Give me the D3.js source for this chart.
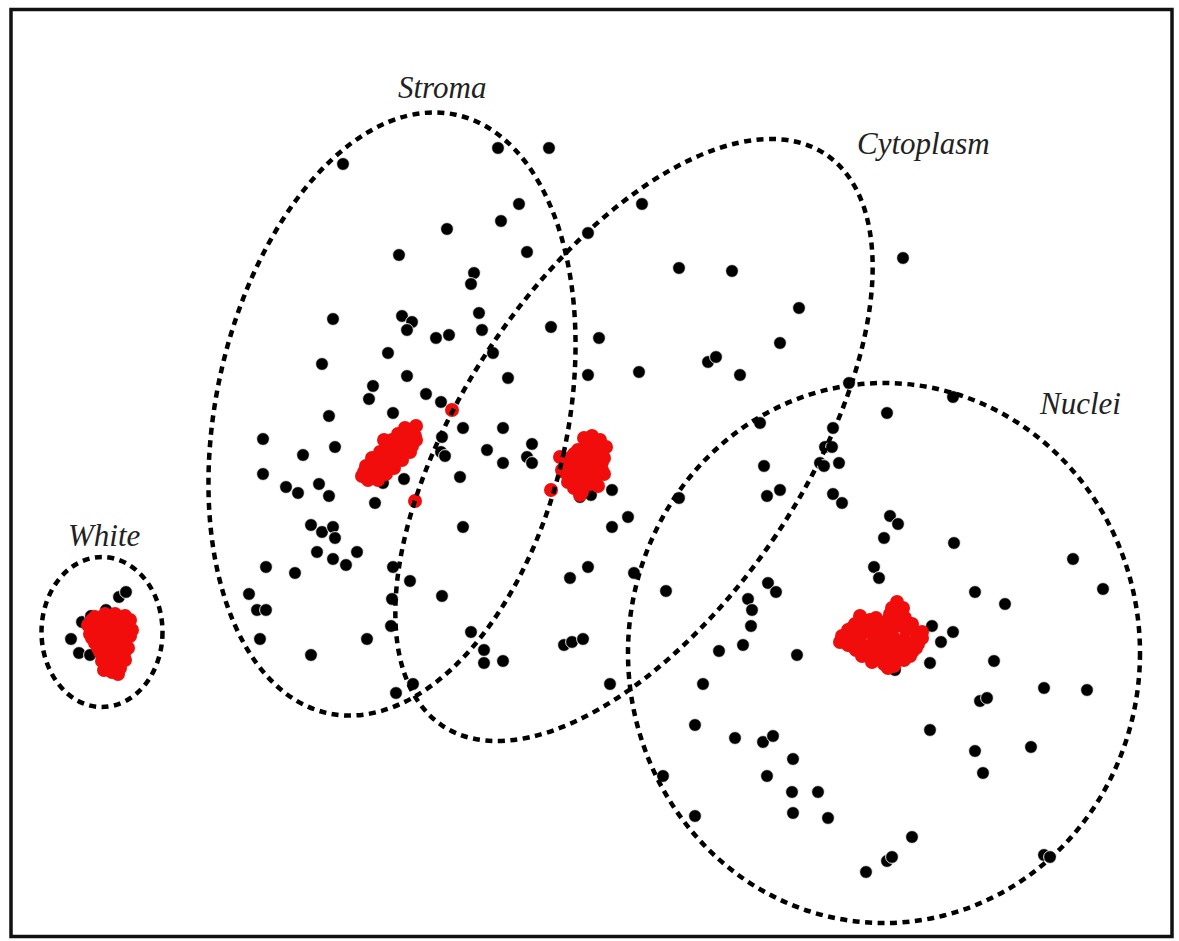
<!DOCTYPE html>
<html>
<head>
<meta charset="utf-8">
<script src="https://cdn.jsdelivr.net/npm/d3@7"></script>
<style>
  html, body { margin: 0; padding: 0; background: #fff; }
  svg { display: block; }
</style>
</head>
<body>
<svg id="chart" width="1179" height="941"></svg>
<script>
// Embedding coordinates (dim1, dim2) of the individual samples.
const samplePoints = [
  [34.3,16.4],[49.8,14.8],[54.9,14.8],[51.9,20.4],[50.1,22.1],[44.7,22.9],[64.2,20.4],[58.8,23.3],
  [39.9,25.5],[52.7,25.2],[47.4,27.3],[47.1,28.4],[67.9,26.8],[73.2,27.1],[90.3,25.8],[79.9,30.8],
  [40.2,31.6],[41.2,32.2],[40.7,33.0],[47.9,31.3],[48.2,33.0],[33.3,31.9],[43.6,33.8],[44.9,33.5],
  [55.1,32.7],[59.9,33.8],[38.8,35.3],[49.3,35.3],[32.2,36.4],[40.7,37.6],[50.8,37.8],[58.8,37.5],
  [63.9,37.2],[70.8,36.2],[71.6,35.7],[74.0,37.5],[78.0,34.3],[37.3,38.6],[36.9,39.9],[42.6,39.4],
  [44.1,40.2],[39.3,41.3],[32.9,41.6],[46.3,42.8],[50.3,42.8],[44.2,43.7],[44.1,45.2],[44.5,45.6],
  [48.7,45.0],[50.3,46.3],[53.2,44.4],[52.7,45.7],[53.2,46.3],[26.3,43.9],[30.3,45.5],[33.5,44.7],
  [26.3,47.4],[28.6,48.7],[29.8,49.3],[31.9,48.4],[32.9,49.6],[37.5,50.3],[38.3,48.3],[40.4,47.9],
  [46.0,47.7],[31.1,52.5],[32.2,53.2],[33.3,52.7],[33.5,53.8],[31.7,55.2],[35.7,55.2],[33.3,55.9],
  [34.6,56.5],[26.6,56.7],[29.5,57.3],[39.3,56.7],[24.9,59.4],[25.7,61.0],[26.6,61.0],[39.2,59.9],
  [41.0,58.1],[44.2,59.6],[46.3,52.7],[58.0,49.7],[59.1,49.5],[61.2,49.0],[62.8,51.7],[61.2,52.7],
  [57.0,57.8],[58.8,56.7],[63.4,57.3],[66.6,59.1],[67.9,49.8],[76.0,42.3],[76.4,46.6],[76.7,49.6],
  [78.0,49.0],[76.8,58.3],[77.6,59.2],[74.8,59.9],[75.2,61.0],[84.9,38.3],[95.3,39.7],[88.7,41.3],
  [83.3,42.8],[82.5,44.7],[83.2,44.7],[82.0,46.3],[82.4,46.6],[83.9,46.3],[83.3,49.4],[84.2,50.3],
  [89.0,51.6],[89.8,52.4],[88.4,53.8],[95.4,54.3],[87.4,56.7],[87.9,57.8],[107.3,55.9],[97.5,59.2],
  [100.5,60.4],[110.3,58.9],[93.2,62.6],[95.3,63.2],[94.1,64.2],[79.7,65.5],[93.0,66.3],[99.4,66.1],
  [89.5,67.0],[104.4,68.8],[108.7,69.0],[98.0,70.1],[98.7,69.8],[93.0,73.0],[97.5,75.1],[103.1,74.7],
  [98.3,77.3],[79.3,75.9],[79.2,79.2],[81.8,79.2],[79.3,81.3],[82.8,81.8],[91.2,83.7],[88.7,86.1],
  [89.2,85.7],[86.6,87.2],[104.4,85.5],[105.0,85.7],[39.1,62.6],[47.1,63.2],[48.4,65.0],[48.4,66.3],
  [50.3,66.1],[56.4,64.5],[57.2,64.2],[58.3,63.9],[41.3,68.4],[39.6,69.3],[61.0,68.4],[75.1,62.6],
  [71.9,65.1],[74.3,64.5],[70.3,68.4],[69.5,72.5],[73.5,73.8],[76.3,74.2],[77.3,73.6],[76.7,77.6],
  [66.3,77.6],[69.5,81.6],[26.0,63.9],[31.1,65.5],[36.7,63.9],[7.1,63.9],[7.9,65.3],[9.0,65.5],
  [8.2,62.2],[9.1,61.6],[10.6,61.0],[11.9,59.7],[12.6,59.2]
];

// Cluster centroids for each tissue class.
const whiteCentroids = [
  [9.5,61.7],[10.5,61.4],[11.5,61.4],[12.5,61.6],[8.8,62.5],[9.8,62.4],[10.8,62.4],[11.8,62.4],
  [12.8,62.6],[9.0,63.4],[10.0,63.4],[11.0,63.4],[12.0,63.4],[13.0,63.6],[9.5,64.3],[10.5,64.3],
  [11.5,64.3],[12.5,64.3],[10.0,65.2],[11.0,65.2],[12.0,65.2],[12.5,66.0],[10.2,66.1],[11.2,66.1],
  [12.0,66.8],[10.4,67.0],[11.2,67.2],
  [9.2,62.0],[10.0,61.8],[11.0,61.8],[12.0,61.8],[13.0,62.0],[9.4,62.9],[10.4,62.9],[11.4,62.9],
  [12.4,62.9],[13.2,63.0],[9.2,63.8],[10.2,63.8],[11.2,63.8],[12.2,63.8],[9.8,64.8],[10.8,64.8],
  [11.8,64.8],[12.8,64.8],[10.4,65.6],[11.4,65.6],[12.4,65.4],[10.8,66.6],[11.6,66.6],[11.8,67.4]
];
const stromaCentroids = [
  [41.2,43.2],[40.5,42.8],[41.6,44.0],[39.8,43.4],[40.8,44.4],[39.2,44.0],[40.0,44.8],[38.6,44.6],
  [39.4,45.4],[41.0,45.2],[38.0,45.2],[38.8,46.0],[40.2,46.0],[37.2,45.8],[38.0,46.6],[39.4,46.8],
  [36.6,46.6],[37.4,47.4],[38.6,47.4],[36.2,47.6],[36.8,48.0],[37.8,48.0],[39.8,44.0],[40.4,43.8],
  [38.4,44.0],[45.2,41.0],[41.5,50.1],
  [41.5,43.6],[40.8,43.6],[40.2,44.4],[39.6,45.0],[39.0,45.6],[38.4,46.2],[37.8,47.0],[37.0,47.4],
  [36.4,47.2],[37.2,46.6],[40.6,45.2],[40.0,45.6],[39.2,46.4],[38.6,46.8],[38.0,47.4],[41.2,44.6],
  [41.6,42.6]
];
const cytoplasmCentroids = [
  [59.2,43.6],[60.0,44.0],[60.6,44.7],[58.6,44.4],[59.6,45.0],[60.4,45.8],[57.8,45.0],[57.0,45.8],
  [58.0,45.8],[59.0,45.8],[60.0,46.6],[60.4,47.4],[56.6,46.6],[57.6,46.6],[58.6,46.8],[59.6,47.6],
  [57.0,47.6],[58.0,47.8],[59.0,48.4],[57.4,48.8],[58.2,49.2],[56.2,47.0],[59.8,48.6],[56.0,45.7],
  [55.1,49.0],
  [58.4,43.8],[59.6,44.4],[60.2,45.2],[57.4,45.4],[58.4,45.4],[59.4,45.4],[60.2,46.2],[57.0,46.2],
  [58.2,46.2],[59.2,46.2],[56.4,47.2],[57.4,47.2],[58.4,47.2],[59.4,47.0],[60.2,47.0],[57.6,48.4],
  [58.6,48.0],[58.0,49.5],[56.8,48.2]
];
const nucleiCentroids = [
  [89.7,60.2],[90.3,60.8],[89.5,61.4],[90.5,61.8],[88.8,62.0],[91.2,62.4],[88.0,62.4],[87.0,62.0],
  [86.0,61.6],[85.5,62.4],[84.8,63.0],[84.2,63.6],[84.0,64.2],[84.8,64.5],[85.8,64.0],[86.6,63.2],
  [87.6,63.0],[88.6,63.0],[89.6,62.6],[90.6,63.0],[91.6,63.2],[92.2,63.8],[91.4,64.2],[90.4,64.0],
  [89.4,63.8],[88.4,64.0],[87.4,64.0],[86.4,64.6],[85.6,65.0],[86.6,65.4],[87.6,65.0],[88.6,64.8],
  [89.6,64.8],[90.6,65.0],[91.6,64.8],[91.0,65.6],[90.0,65.8],[89.0,65.6],[88.0,65.8],[87.2,66.2],
  [88.4,66.4],[89.4,66.6],
  [89.2,60.8],[90.0,61.2],[89.0,61.4],[87.6,61.8],[86.4,62.2],[85.2,62.8],[84.4,64.0],[85.2,63.6],
  [86.0,63.2],[87.0,62.6],[88.0,62.6],[89.2,62.2],[90.0,62.4],[91.0,62.6],[92.2,63.2],[91.8,64.4],
  [90.0,64.4],[89.0,64.4],[88.0,64.4],[87.0,64.6],[86.0,64.2],[85.2,64.6],[86.2,65.6],[87.0,65.6],
  [88.2,65.2],[89.2,65.2],[90.2,65.2],[91.2,65.2],[90.4,66.0],[89.4,66.2],[88.8,66.8]
];

// Class regions: centre, semi-axes (across, along) and tilt in degrees.
const regionNames   = ["Stroma", "Cytoplasm", "Nuclei", "White"];
const regionCenters = [[39.2,41.4], [63.4,44.0], [88.4,65.3], [10.2,63.2]];
const regionRadii   = [[17.6,30.6], [17.1,34.4], [25.6,27.0], [6.05,7.5]];
const regionTilts   = [12, 33.9, 0, 0];
const labelAnchors  = [[39.8,9.8], [85.7,15.4], [104.0,41.4], [6.8,54.6]];

const width = 1179, height = 941;
const svg = d3.select("#chart");

const x = d3.scaleLinear().domain([0, 117.9]).range([0, width]);
const y = d3.scaleLinear().domain([0, 94.1]).range([0, height]);

// plot frame
svg.append("rect")
  .attr("x", 11).attr("y", 9.5)
  .attr("width", 1161).attr("height", 927)
  .attr("fill", "none")
  .attr("stroke", "#111")
  .attr("stroke-width", 3.5);

// samples
svg.append("g").selectAll("circle")
  .data(samplePoints)
  .join("circle")
  .attr("cx", d => x(d[0]))
  .attr("cy", d => y(d[1]))
  .attr("r", 6.4)
  .attr("fill", "#000")
  .attr("stroke", "#fff")
  .attr("stroke-width", 0.9);

// centroids
const centroidGroups = [whiteCentroids, stromaCentroids, cytoplasmCentroids, nucleiCentroids];
svg.append("g").selectAll("circle")
  .data(centroidGroups.flat())
  .join("circle")
  .attr("cx", d => x(d[0]))
  .attr("cy", d => y(d[1]))
  .attr("r", 7)
  .attr("fill", "#f20d0d");

// dashed class regions
const regions = regionNames.map((name, i) => ({
  name,
  c: regionCenters[i], r: regionRadii[i], tilt: regionTilts[i], label: labelAnchors[i]
}));

svg.append("g").selectAll("ellipse")
  .data(regions)
  .join("ellipse")
  .attr("cx", 0).attr("cy", 0)
  .attr("rx", d => x(d.r[0]) - x(0))
  .attr("ry", d => y(d.r[1]) - y(0))
  .attr("transform", d => `translate(${x(d.c[0])},${y(d.c[1])}) rotate(${d.tilt})`)
  .attr("fill", "none")
  .attr("stroke", "#000")
  .attr("stroke-width", 4.5)
  .attr("stroke-dasharray", "7 5.5");

// region labels
svg.append("g").selectAll("text")
  .data(regions)
  .join("text")
  .attr("x", d => x(d.label[0]))
  .attr("y", d => y(d.label[1]))
  .attr("font-family", "'Liberation Serif', 'DejaVu Serif', serif")
  .attr("font-style", "italic")
  .attr("font-size", 31)
  .attr("fill", "#222")
  .text(d => d.name);
</script>
</body>
</html>
